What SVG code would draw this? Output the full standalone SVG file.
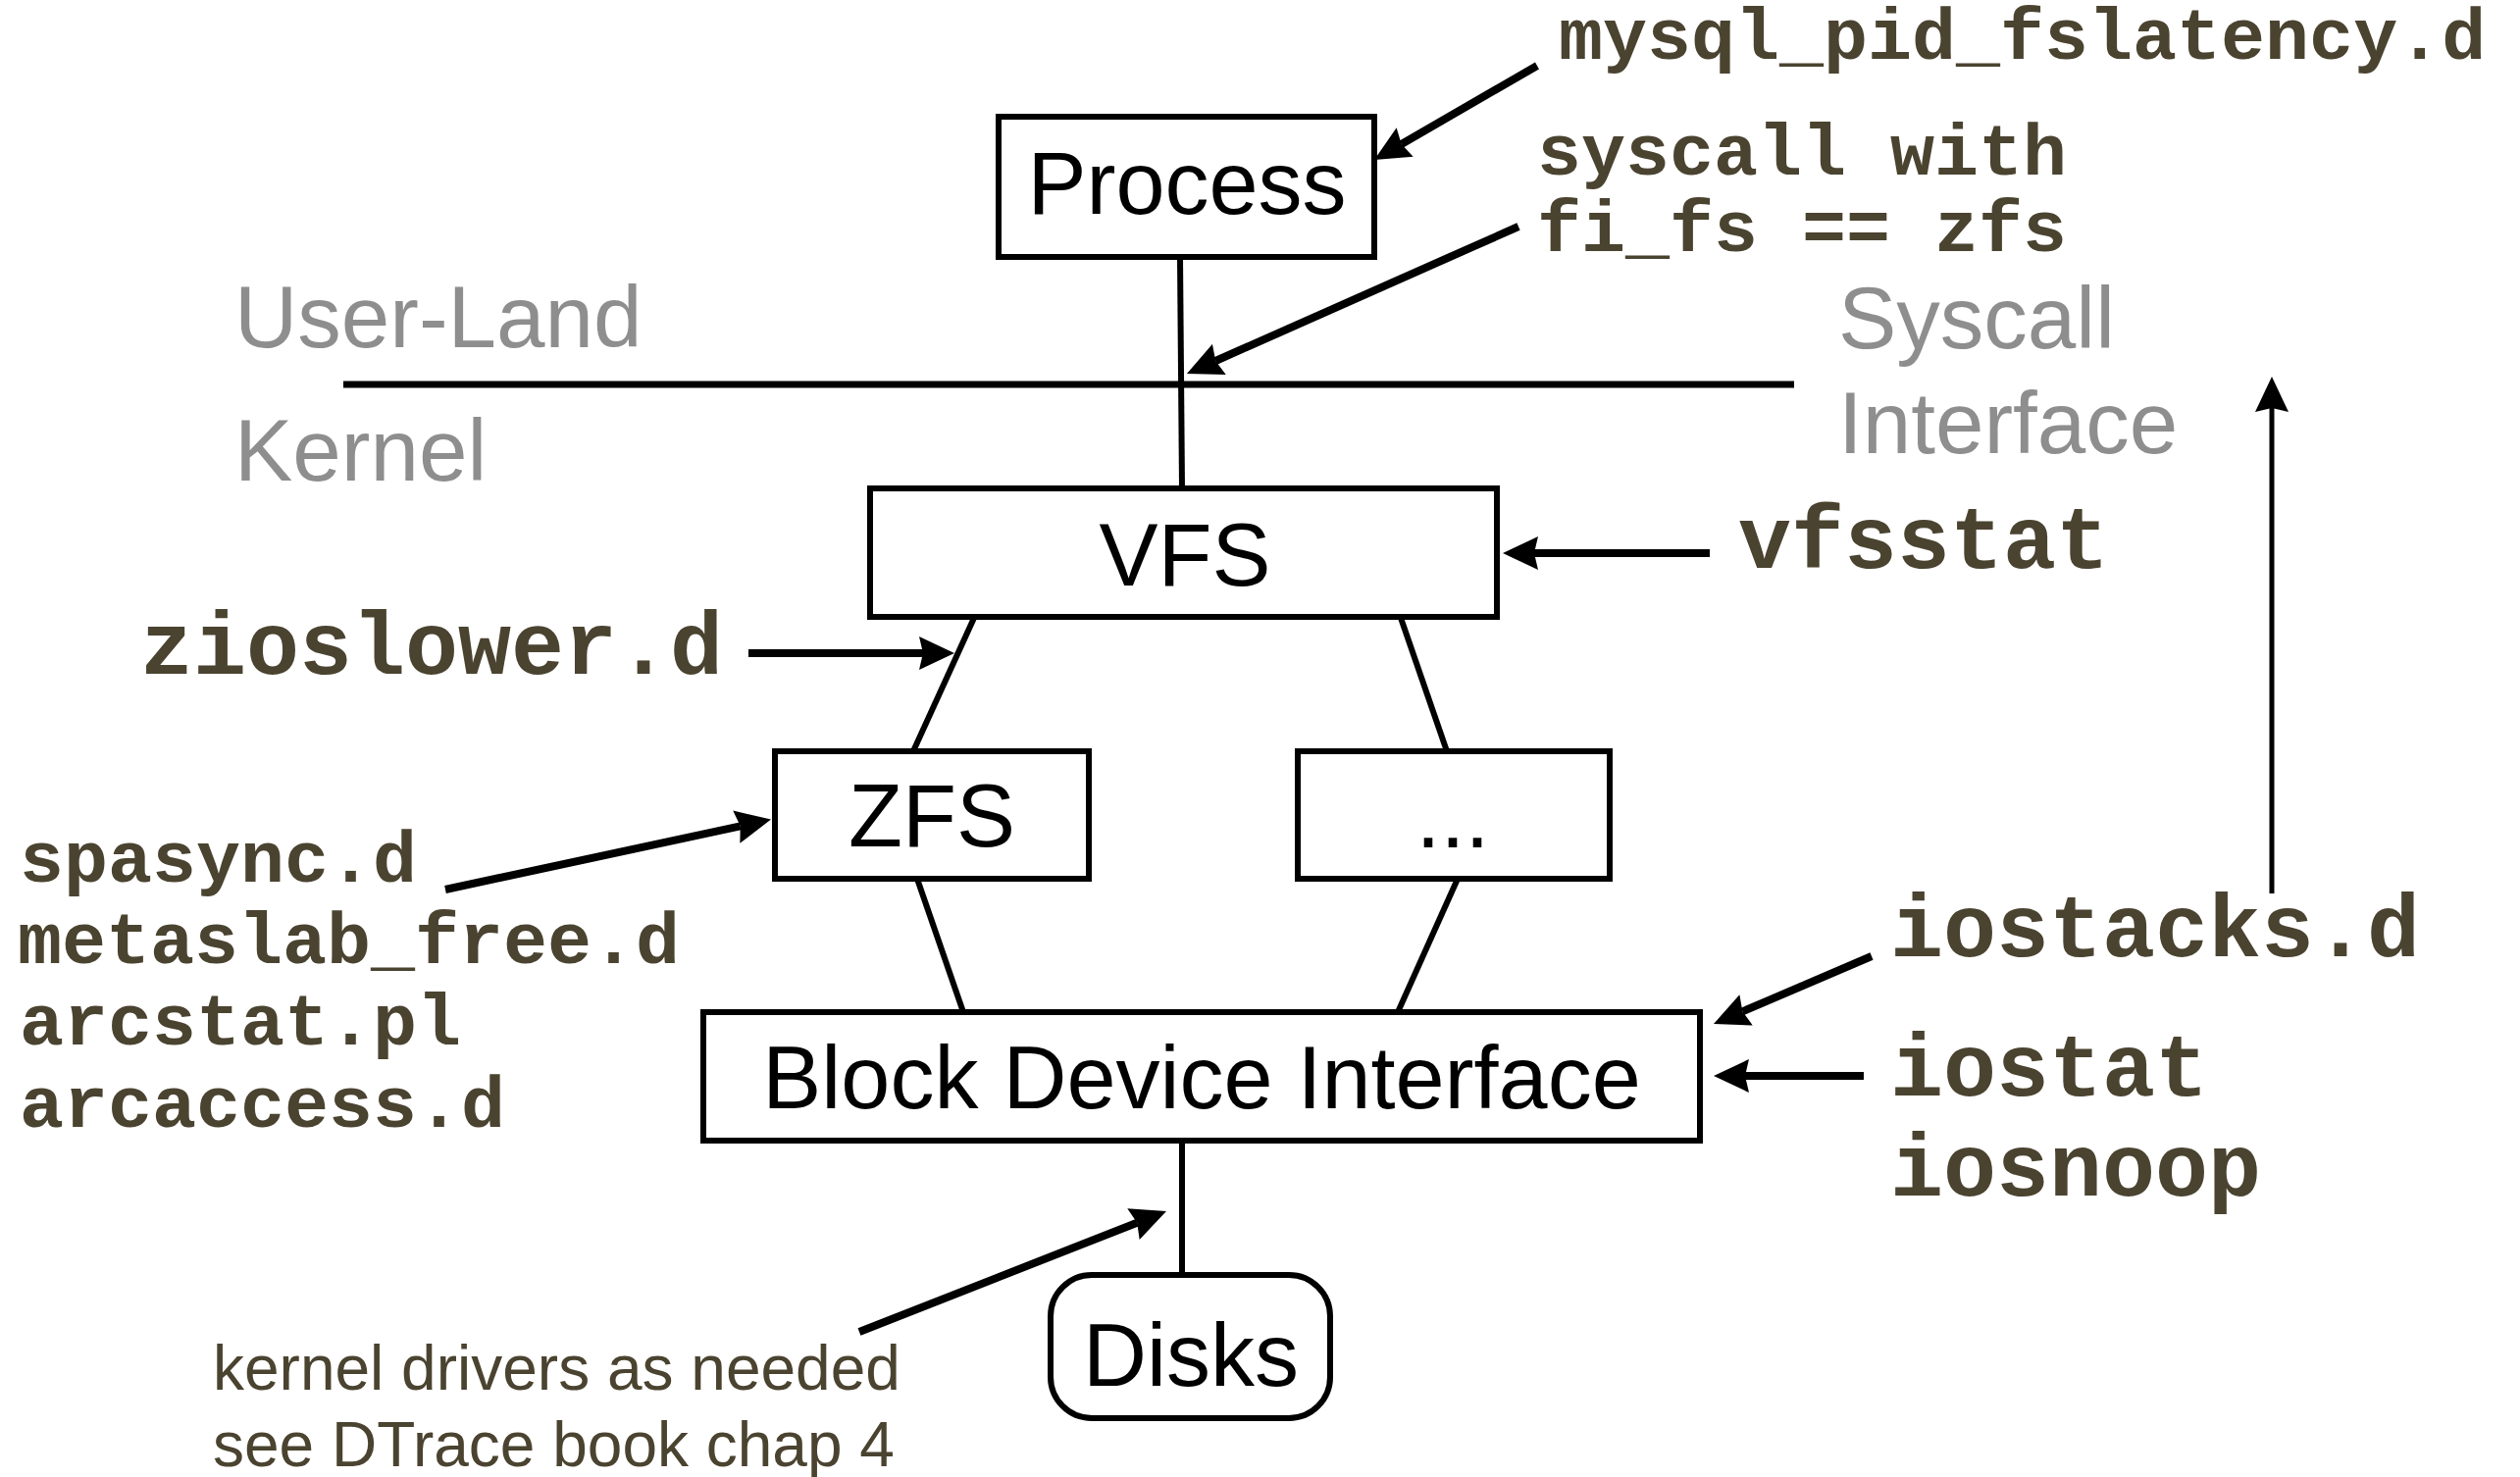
<svg xmlns="http://www.w3.org/2000/svg" width="2569" height="1506" viewBox="0 0 2569 1506">
<style>
.box{fill:#fff;stroke:#000;stroke-width:6}
.lbl{font-family:"Liberation Sans",Arial,sans-serif;font-size:90px;fill:#000;text-anchor:middle}
.gray{font-family:"Liberation Sans",Arial,sans-serif;font-size:89px;fill:#8e8e8e}
.mono{font-family:"Liberation Mono","Courier New",monospace;font-weight:bold;fill:#4a4330}
.m75{font-size:75px}
.m90{font-size:90px}
.note{font-family:"Liberation Sans",Arial,sans-serif;font-size:64px;fill:#4a4330}
.conn{fill:none;stroke:#000;stroke-width:6}
.arr{fill:none;stroke:#000;stroke-width:8;marker-end:url(#ah)}
</style>
<defs>
<marker id="ah" markerUnits="userSpaceOnUse" viewBox="0 0 36 34" markerWidth="36" markerHeight="34" refX="4" refY="17" orient="auto">
<path d="M36,17 L0,0 L4,17 L0,34 Z" fill="#000"/>
</marker>
</defs>
<rect width="2569" height="1506" fill="#fff"/>
<g id="connectors">
<line class="conn" x1="1203" y1="262" x2="1205" y2="498"/>
<line x1="350" y1="392" x2="1829" y2="392" stroke="#000" stroke-width="7"/>
<line class="conn" x1="993" y1="630" x2="931" y2="766"/>
<line class="conn" x1="1428" y1="630" x2="1475" y2="766"/>
<line class="conn" x1="935" y1="896" x2="982" y2="1032"/>
<line class="conn" x1="1486" y1="896" x2="1425" y2="1032"/>
<line class="conn" x1="1205" y1="1163" x2="1205" y2="1300"/>
<line class="arr" x1="1567" y1="67" x2="1428.7" y2="147"/>
<line class="arr" x1="1548" y1="231" x2="1239.2" y2="368"/>
<line class="arr" x1="1743" y1="564" x2="1564" y2="564"/>
<line class="arr" x1="763" y1="666" x2="941" y2="666"/>
<line class="arr" x1="454" y1="907" x2="754.7" y2="842.3"/>
<line class="arr" x1="1908" y1="975" x2="1776.4" y2="1031.4"/>
<line class="arr" x1="1900" y1="1097" x2="1779" y2="1097"/>
<line class="arr" x1="876" y1="1358" x2="1159.2" y2="1246.7"/>
<line x1="2316" y1="911" x2="2316" y2="416" stroke="#000" stroke-width="5" marker-end="url(#ah)"/>
</g>
<g id="process">
<rect class="box" x="1018" y="119" width="383" height="143"/>
<text class="lbl" x="1210" y="218">Process</text>
</g>
<g id="vfs">
<rect class="box" x="887" y="498" width="639" height="131"/>
<text class="lbl" x="1208" y="597">VFS</text>
</g>
<g id="zfs">
<rect class="box" x="790" y="766" width="320" height="130"/>
<text class="lbl" x="950" y="863">ZFS</text>
</g>
<g id="other-fs">
<rect class="box" x="1323" y="766" width="318" height="130"/>
<text class="lbl" x="1481" y="864">...</text>
</g>
<g id="bdi">
<rect class="box" x="717" y="1032" width="1016" height="131"/>
<text class="lbl" x="1225" y="1130">Block Device Interface</text>
</g>
<g id="disks">
<rect class="box" x="1071" y="1300" width="285" height="146" rx="42" ry="42"/>
<text class="lbl" x="1214" y="1413">Disks</text>
</g>
<g id="labels">
<text class="gray" x="239" y="354">User-Land</text>
<text class="gray" x="239" y="490">Kernel</text>
<text class="gray" x="1874" y="355">Syscall</text>
<text class="gray" x="1874" y="462">Interface</text>
<text class="mono m75" x="1589" y="60">mysql_pid_fslatency.d</text>
<text class="mono m75" x="1567" y="178">syscall with</text>
<text class="mono m75" x="1567" y="256">fi_fs == zfs</text>
<text class="mono m90" x="1772" y="579">vfsstat</text>
<text class="mono m90" x="143" y="687">zioslower.d</text>
<text class="mono m75" x="20" y="899">spasync.d</text>
<text class="mono m75" x="18" y="982">metaslab_free.d</text>
<text class="mono m75" x="20" y="1065">arcstat.pl</text>
<text class="mono m75" x="20" y="1149">arcaccess.d</text>
<text class="mono m90" x="1927" y="975">iostacks.d</text>
<text class="mono m90" x="1927" y="1117">iostat</text>
<text class="mono m90" x="1927" y="1219">iosnoop</text>
<text class="note" x="217" y="1417">kernel drivers as needed</text>
<text class="note" x="217" y="1495">see DTrace book chap 4</text>
</g>
</svg>
